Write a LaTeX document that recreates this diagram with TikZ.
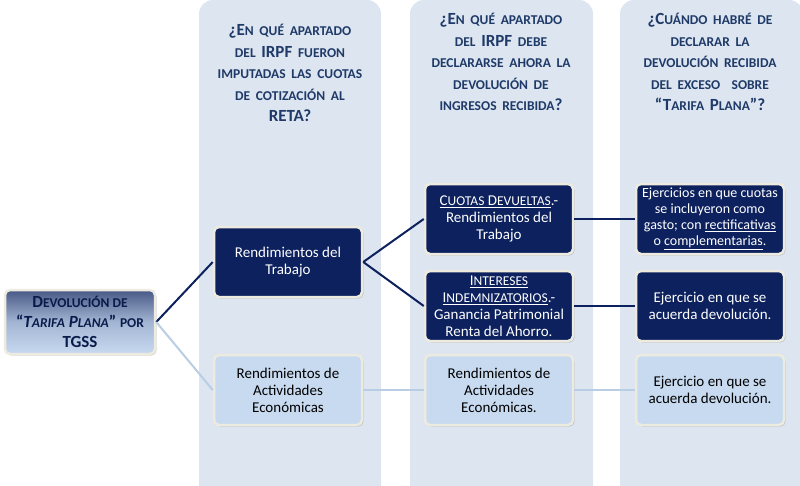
\documentclass[tikz,border=0pt]{standalone}
\usepackage{fontspec}
\setmainfont{Carlito}
\usetikzlibrary{shadows,positioning}
\definecolor{navy}{HTML}{0C215E}
\definecolor{hdr}{HTML}{1F3A68}
\definecolor{colbg}{HTML}{DCE5F0}
\definecolor{lite}{HTML}{C8DAF0}
\definecolor{litel}{HTML}{B9CDE5}
\definecolor{rim}{HTML}{EDEBE0}
\newcommand{\sm}[1]{{\fontsize{13.5}{15}\selectfont #1}}
\begin{document}
\begin{tikzpicture}[x=1pt,y=-1pt,
  col/.style={fill=colbg,rounded corners=14pt},
  box/.style={draw=rim,line width=2.5pt,rounded corners=5pt,minimum width=148pt,minimum height=70pt,align=center,font=\fontsize{15}{17}\selectfont,drop shadow={opacity=0.35,shadow xshift=1.5pt,shadow yshift=-1.5pt}},
  dark/.style={box,fill=navy,text=white},
  light/.style={box,fill=lite,text=black},
  hd/.style={align=center,text=hdr,font=\bfseries\fontsize{17}{21.5}\selectfont,text width=185pt},
  dl/.style={draw=navy,line width=2pt},
  ll/.style={draw=litel,line width=2pt}]
\useasboundingbox (0,0) rectangle (800,485);
\fill[col] (199,0) rectangle (381,500);
\fill[col] (410,0) rectangle (593,500);
\fill[col] (620,0) rectangle (803,500);
\node[hd] (h1) at (290,73) {¿E\sm{N QUÉ APARTADO}\\ \sm{DEL} IRPF \sm{FUERON}\\ \sm{IMPUTADAS LAS CUOTAS}\\ \sm{DE COTIZACIÓN AL}\\ RETA?};
\node[hd] (h2) at (501,62) {¿E\sm{N QUÉ APARTADO}\\ \sm{DEL} IRPF \sm{DEBE}\\ \sm{DECLARARSE AHORA LA}\\ \sm{DEVOLUCIÓN DE}\\ \sm{INGRESOS RECIBIDA}?};
\node[hd] (h3) at (710,62) {¿C\sm{UÁNDO HABRÉ DE}\\ \sm{DECLARAR LA}\\ \sm{DEVOLUCIÓN RECIBIDA}\\ \sm{DEL EXCESO \ SOBRE}\\ “T\sm{ARIFA} P\sm{LANA}”?};
\node[box,minimum width=150pt,minimum height=64pt,draw=rim,top color=navy!75!white,bottom color=lite,middle color=lite!80!navy,text=navy!80!black,font=\bfseries\fontsize{17}{20}\selectfont] (src) at (80,322) {D\sm{EVOLUCIÓN DE}\\ “\textit{T\sm{ARIFA} P\sm{LANA}}” \sm{POR}\\ TGSS};
\node[dark] (rt) at (288,262) {Rendimientos del\\ Trabajo};
\node[light] (ra) at (288,390) {Rendimientos de\\ Actividades\\ Económicas};
\node[dark] (cd) at (499,219) {\underline{C\sm{UOTAS} D\sm{EVUELTAS}}.-\\ Rendimientos del\\ Trabajo};
\node[dark] (ii) at (499,306) {\underline{I\sm{NTERESES}}\\ \underline{I\sm{NDEMNIZATORIOS}}.-\\ Ganancia Patrimonial\\ Renta del Ahorro.};
\node[light] (ra2) at (499,390) {Rendimientos de\\ Actividades\\ Económicas.};
\node[dark,font=\fontsize{14}{16}\selectfont] (e1) at (710,219) {Ejercicios en que cuotas\\ se incluyeron como\\ gasto; con \underline{rectificativas}\\ o \underline{complementarias}.};
\node[dark] (e2) at (710,306) {Ejercicio en que se\\ acuerda devolución.};
\node[light] (e3) at (710,390) {Ejercicio en que se\\ acuerda devolución.};
\path[dl] (src.east) -- (rt.west);
\path[ll] (src.east) -- (ra.west);
\path[dl] (rt.east) -- (cd.west);
\path[dl] (rt.east) -- (ii.west);
\path[dl] (cd.east) -- (e1.west);
\path[dl] (ii.east) -- (e2.west);
\path[ll] (ra.east) -- (ra2.west);
\path[ll] (ra2.east) -- (e3.west);
\end{tikzpicture}
\end{document}
